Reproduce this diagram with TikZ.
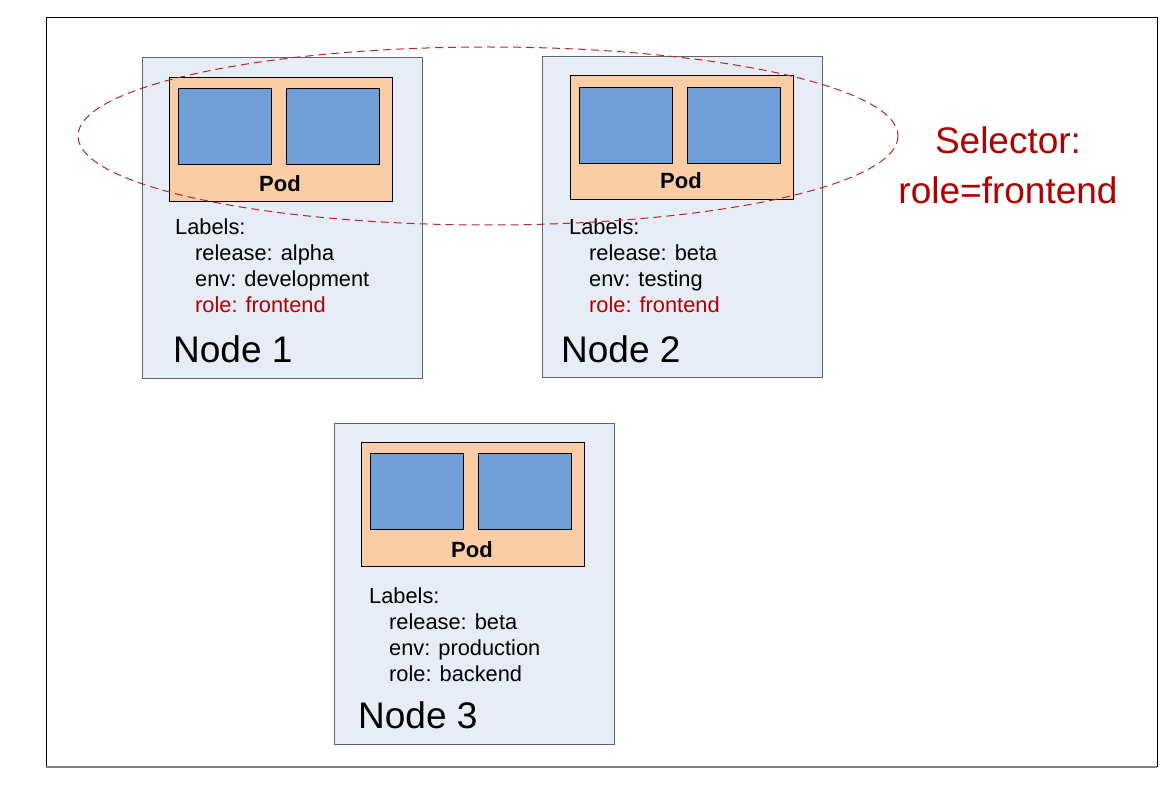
\documentclass[tikz,border=0pt]{standalone}
\usepackage{fontspec}
\setmainfont{Liberation Sans}
\usepackage{tikz}
\usetikzlibrary{positioning}
\definecolor{nodebg}{RGB}{230,237,247}
\definecolor{podbg}{RGB}{250,205,166}
\definecolor{ctrbg}{RGB}{112,159,216}
\definecolor{selred}{RGB}{176,0,0}
\definecolor{boxgray}{RGB}{100,100,100}

\begin{document}
\begin{tikzpicture}[
			x = 1pt, y = -1pt,
			machine/.style = {draw=boxgray, fill=nodebg, line width=0.9pt, anchor=north west,
				inner sep=0pt, minimum width=280pt, minimum height=321pt},
			pod/.style = {draw, fill=podbg, line width=0.9pt, anchor=north west,
				inner sep=0pt, minimum width=223pt, minimum height=124pt},
			ctr/.style = {draw, fill=ctrbg, line width=0.9pt, anchor=north west,
				inner sep=0pt, minimum width=93pt, minimum height=76pt},
			podname/.style = {anchor=base, inner sep=0pt, font=\fontsize{22}{24}\selectfont\bfseries},
			labels/.style = {anchor=north west, inner sep=0pt, align=left, font=\fontsize{21.8}{26}\selectfont},
			nodename/.style = {anchor=base west, inner sep=0pt, font=\fontsize{37}{40}\selectfont},
			selector/.style = {draw=selred!85, dashed, dash pattern=on 8pt off 5pt, line width=1pt}
			]

			\useasboundingbox (0,0) rectangle (1172,794);
			\draw[line width=1pt] (46,767) -- (46,18) -- (1157,18) -- (1157,767);
			\draw[line width=1.5pt, gray] (46,767) -- (1157,767);

			% node 1
			\node[machine] (m1) at (142,57) {};
			\node[pod] (p1) at (169,77) {};
			\node[ctr] (c1a) at (178,88) {};
			\node[ctr] (c1b) at (286,88) {};
			\node[podname] (t1) at (280,192) {Pod};
			\node[labels] (l1) at (175,219) {Labels:\\
				\hspace*{20pt}release: alpha\\
				\hspace*{20pt}env: development\\
				\hspace*{20pt}\textcolor{selred}{role: frontend}};
			\node[nodename] (n1) at (173,362) {Node 1};

			% node 2
			\node[machine] (m2) at (542,56) {};
			\node[pod] (p2) at (570,75) {};
			\node[ctr] (c2a) at (579,87) {};
			\node[ctr] (c2b) at (687,87) {};
			\node[podname] (t2) at (681,189) {Pod};
			\node[labels] (l2) at (569,219) {Labels:\\
				\hspace*{20pt}release: beta\\
				\hspace*{20pt}env: testing\\
				\hspace*{20pt}\textcolor{selred}{role: frontend}};
			\node[nodename] (n2) at (561,362) {Node 2};

			% node 3
			\node[machine] (m3) at (334,423) {};
			\node[pod] (p3) at (361,442) {};
			\node[ctr] (c3a) at (370,453) {};
			\node[ctr] (c3b) at (478,453) {};
			\node[podname] (t3) at (472,557) {Pod};
			\node[labels] (l3) at (369,587) {Labels:\\
				\hspace*{20pt}release: beta\\
				\hspace*{20pt}env: production\\
				\hspace*{20pt}role: backend};
			\node[nodename] (n3) at (358,728) {Node 3};

			% selector
			\draw[selector] (488,136) ellipse [x radius=410, y radius=89];
			\node[align=center, text=selred, inner sep=0pt, font=\fontsize{37}{50}\selectfont]
				(sel) at (1008,165) {Selector:\\role=frontend};

		\end{tikzpicture}
\end{document}
